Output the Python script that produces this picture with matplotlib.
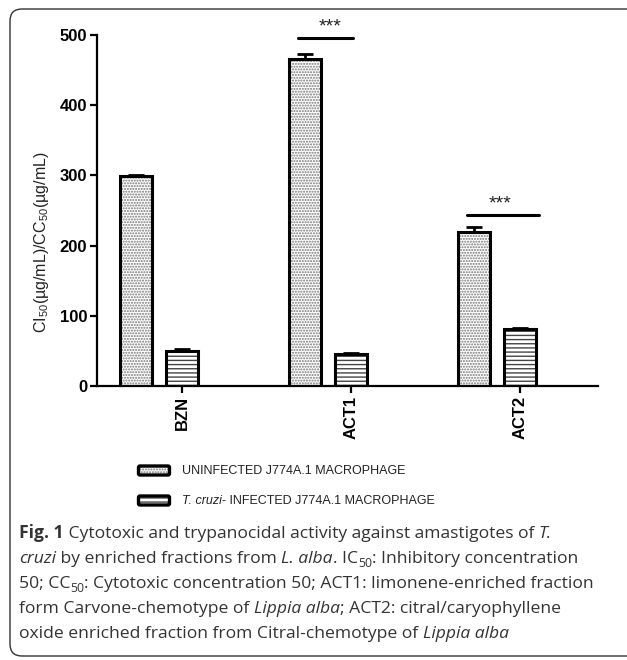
import matplotlib
matplotlib.use("Agg")
import matplotlib.pyplot as plt
import numpy as np
from matplotlib.patches import FancyBboxPatch
from matplotlib.transforms import IdentityTransform

# ---- data ----
categories = ["BZN", "ACT1", "ACT2"]
uninfected = [299, 466, 219]
uninfected_err = [2, 7, 7]
infected = [50, 46, 81]
infected_err = [3, 1, 1]
series_labels = ["UNINFECTED J774A.1 MACROPHAGE", "INFECTED J774A.1 MACROPHAGE"]
yticks = [0, 100, 200, 300, 400, 500]
sig_labels = ["***", "***"]
sig_groups = [1, 2]
sig_heights = [496, 244]

W, H = 627, 660
plt.rcParams['hatch.linewidth'] = 1.0
plt.rcParams['mathtext.fontset'] = 'custom'
plt.rcParams['mathtext.rm'] = 'Liberation Sans'
fig = plt.figure(figsize=(W / 100, H / 100), dpi=100)

ax = fig.add_axes([97 / W, 1 - 386 / H, (598 - 97) / W, (386 - 35) / H])
x = np.arange(len(categories))
off = 46 / 169
bw = 32 / 169

# uninfected: stipple
ax.bar(x - off, uninfected, width=bw, color="white", edgecolor="#777777",
       hatch="......", linewidth=0, zorder=2)
ax.bar(x - off, uninfected, width=bw, color="none", edgecolor="black",
       linewidth=2.2, zorder=3)
# infected: horizontal lines
ax.bar(x, infected, width=bw, color="white", edgecolor="#444444",
       hatch="----", linewidth=0, zorder=2)
ax.bar(x, infected, width=bw, color="none", edgecolor="black",
       linewidth=2.2, zorder=3)

ax.errorbar(x - off, uninfected, yerr=[np.zeros(3), uninfected_err], fmt="none",
            ecolor="black", elinewidth=2, capsize=6, capthick=2, zorder=4)
ax.errorbar(x, infected, yerr=[np.zeros(3), infected_err], fmt="none",
            ecolor="black", elinewidth=2, capsize=6, capthick=2, zorder=4)

# significance
for g, h, s in zip(sig_groups, sig_heights, sig_labels):
    x0 = g - off - 7 / 169
    x1 = g + 2 / 169 if g == 1 else g + 19 / 169
    ax.plot([x0, x1], [h, h], color="black", lw=2.2, solid_capstyle="round",
            zorder=5, clip_on=False)
    sx = (x0 + x1) / 2 + (5 / 169 if g == 1 else -3 / 169)
    ax.text(sx, h + 15, s, ha="center", va="center",
            fontsize=14, family="Liberation Sans", color="#222222")

ax.set_xlim(-85 / 169, 416 / 169)
ax.set_ylim(0, 500)
ax.set_yticks(yticks)
ax.set_yticklabels([str(t) for t in yticks], fontsize=12, fontweight="bold",
                   family="Liberation Sans")
ax.set_xticks(x)
ax.set_xticklabels(categories, rotation=90, fontsize=12, fontweight="bold",
                   family="Liberation Sans")
for sp in ["top", "right"]:
    ax.spines[sp].set_visible(False)
for sp in ["left", "bottom"]:
    ax.spines[sp].set_linewidth(1.6)
ax.tick_params(axis="both", width=1.6, length=5, direction="out", pad=2)

fig.text(42 / W, 1 - 242 / H,
         r"CI$_{\mathregular{50}}$(µg/mL)/CC$_{\mathregular{50}}$(µg/mL)",
         rotation=90, ha="center", va="center", fontsize=11.5,
         family="Liberation Sans", color="#222222")

# legend
for yrow, hatch, hc in [(470.5, "......", "#777777"), (500.5, "----", "#444444")]:
    p = FancyBboxPatch((140, H - yrow - 3), 28, 6, boxstyle="round,pad=1.5",
                       transform=IdentityTransform(), facecolor="white",
                       edgecolor=hc, hatch=hatch, linewidth=0)
    fig.add_artist(p)
    p2 = FancyBboxPatch((140, H - yrow - 3), 28, 6, boxstyle="round,pad=1.5",
                        transform=IdentityTransform(), facecolor="none",
                        edgecolor="black", linewidth=2.4)
    fig.add_artist(p2)

LEGSIZE = 9.0
fig.text(182 / W, 1 - 470.5 / H, series_labels[0], fontsize=LEGSIZE, va="center",
         family="Liberation Sans", color="#222222")

renderer = fig.canvas.get_renderer()


def runs(xpx, ypx, parts, size=12.6):
    cur = xpx
    for txt, style in parts:
        kw = dict(family="Open Sans", fontsize=size, color="#333333", va="baseline")
        dy = 0
        if style == "b":
            kw["fontweight"] = "bold"
        elif style == "i":
            kw["fontstyle"] = "italic"
        elif style == "sub":
            kw["fontsize"] = size * 0.7
            dy = 4
        elif style == "leg":
            kw.update(family="Liberation Sans", fontsize=LEGSIZE, color="#222222",
                      va="center")
        elif style == "legi":
            kw.update(family="Liberation Sans", fontsize=LEGSIZE, color="#222222",
                      fontstyle="italic", va="center")
        t = fig.text(cur / W, 1 - (ypx + dy) / H, txt, **kw)
        bb = t.get_window_extent(renderer)
        cur += bb.width


runs(182, 500.5, [("T. cruzi", "legi"), ("- INFECTED J774A.1 MACROPHAGE", "leg")])

cap = [
    [("Fig. 1", "b"), (" Cytotoxic and trypanocidal activity against amastigotes of ", "n"), ("T.", "i")],
    [("cruzi", "i"), (" by enriched fractions from ", "n"), ("L. alba", "i"), (". IC", "n"), ("50", "sub"),
     (": Inhibitory concentration", "n")],
    [("50; CC", "n"), ("50", "sub"), (": Cytotoxic concentration 50; ACT1: limonene-enriched fraction", "n")],
    [("form Carvone-chemotype of ", "n"), ("Lippia alba", "i"), ("; ACT2: citral/caryophyllene", "n")],
    [("oxide enriched fraction from Citral-chemotype of ", "n"), ("Lippia alba", "i")],
]
for i, line in enumerate(cap):
    runs(19, 538 + 25 * i, line)

# rounded border
border = FancyBboxPatch((10, 4), W + 20, H - 13, boxstyle="round,pad=0,rounding_size=12",
                        transform=IdentityTransform(), facecolor="none",
                        edgecolor="#333333", linewidth=1.0)
fig.add_artist(border)

fig.savefig("out.png", dpi=100)
